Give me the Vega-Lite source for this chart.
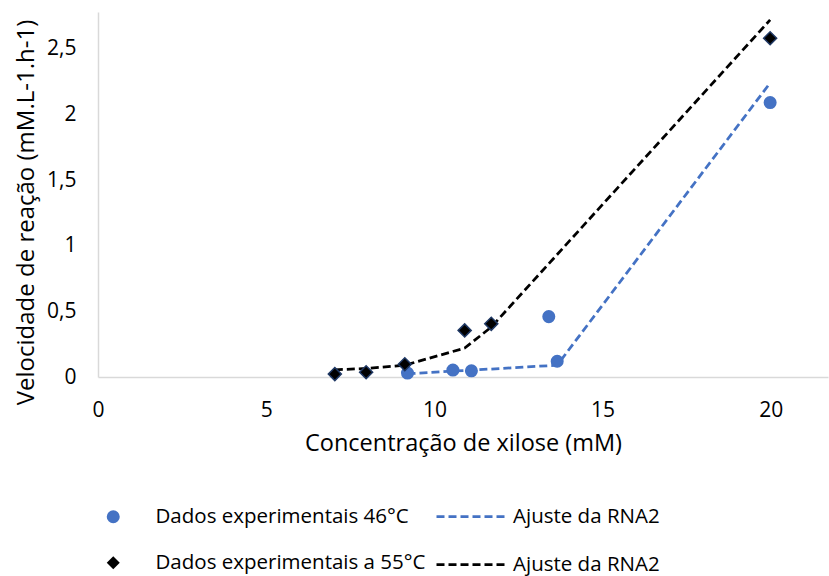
{
  "$schema": "https://vega.github.io/schema/vega-lite/v6.json",
  "width": 730,
  "height": 365,
  "autosize": {"type": "none"},
  "padding": {"left": 98, "top": 12, "right": 1, "bottom": 199},
  "background": "white",
  "config": {
    "view": {"stroke": null},
    "font": "Open Sans",
    "axis": {"labelFont": "Open Sans", "titleFont": "Open Sans", "labelColor": "#000000", "titleColor": "#000000", "titleFontWeight": "normal", "domainColor": "#d9d9d9", "domainWidth": 1.5, "ticks": false, "grid": false},
    "legend": {"labelFont": "Open Sans", "labelColor": "#000000", "padding": 0}
  },
  "datasets": {
    "exp": [
      {"x": 9.2, "y": 0.03, "serie": "Dados experimentais 46°C"},
      {"x": 10.55, "y": 0.053, "serie": "Dados experimentais 46°C"},
      {"x": 11.1, "y": 0.047, "serie": "Dados experimentais 46°C"},
      {"x": 13.4, "y": 0.46, "serie": "Dados experimentais 46°C"},
      {"x": 13.65, "y": 0.12, "serie": "Dados experimentais 46°C"},
      {"x": 19.98, "y": 2.09, "serie": "Dados experimentais 46°C"},
      {"x": 7.04, "y": 0.022, "serie": "Dados experimentais a 55°C"},
      {"x": 7.97, "y": 0.036, "serie": "Dados experimentais a 55°C"},
      {"x": 9.12, "y": 0.097, "serie": "Dados experimentais a 55°C"},
      {"x": 10.9, "y": 0.355, "serie": "Dados experimentais a 55°C"},
      {"x": 11.69, "y": 0.405, "serie": "Dados experimentais a 55°C"},
      {"x": 19.98, "y": 2.58, "serie": "Dados experimentais a 55°C"}
    ],
    "fit": [
      {"x": 9.2, "y": 0.025, "ajuste": "Ajuste da RNA2|46"},
      {"x": 10.55, "y": 0.045, "ajuste": "Ajuste da RNA2|46"},
      {"x": 11.1, "y": 0.052, "ajuste": "Ajuste da RNA2|46"},
      {"x": 13.65, "y": 0.09, "ajuste": "Ajuste da RNA2|46"},
      {"x": 19.98, "y": 2.24, "ajuste": "Ajuste da RNA2|46"},
      {"x": 7.04, "y": 0.055, "ajuste": "Ajuste da RNA2|55"},
      {"x": 7.97, "y": 0.065, "ajuste": "Ajuste da RNA2|55"},
      {"x": 9.12, "y": 0.09, "ajuste": "Ajuste da RNA2|55"},
      {"x": 10.9, "y": 0.22, "ajuste": "Ajuste da RNA2|55"},
      {"x": 11.69, "y": 0.38, "ajuste": "Ajuste da RNA2|55"},
      {"x": 19.98, "y": 2.72, "ajuste": "Ajuste da RNA2|55"}
    ]
  },
  "encoding": {
    "x": {
      "field": "x", "type": "quantitative",
      "scale": {"domain": [0, 21.7], "nice": false, "zero": false},
      "axis": {"values": [0, 5, 10, 15, 20], "title": "Concentração de xilose (mM)", "labelFontSize": 21, "titleFontSize": 23.5, "labelPadding": 22, "titlePadding": 11, "labelFlush": false}
    },
    "y": {
      "field": "y", "type": "quantitative",
      "scale": {"domain": [0, 2.78], "nice": false},
      "axis": {"values": [0, 0.5, 1, 1.5, 2, 2.5], "labelExpr": "replace(format(datum.value, '~g'), '.', ',')", "title": "Velocidade de reação (mM.L-1.h-1)", "labelFontSize": 21, "titleFontSize": 24, "labelPadding": 22, "titlePadding": 8, "titleY": 200, "labelFlush": false}
    }
  },
  "layer": [
    {
      "data": {"name": "fit"},
      "mark": {"type": "line", "strokeWidth": 2.75, "strokeDash": [8, 4]},
      "encoding": {
        "stroke": {
          "field": "ajuste", "type": "nominal",
          "scale": {"domain": ["Ajuste da RNA2|46", "Ajuste da RNA2|55"], "range": ["#4472C4", "#000000"]},
          "legend": {
            "title": null,
            "orient": "none",
            "legendX": 337,
            "legendY": 467.5,
            "direction": "vertical",
            "symbolType": "stroke",
            "symbolSize": 5041,
            "symbolDash": [8, 4],
            "symbolStrokeWidth": 2.75,
            "labelFontSize": 20.5,
            "labelOffset": 4,
            "rowPadding": -26,
            "labelLimit": 400,
            "labelExpr": "split(datum.label, '|')[0]"
          }
        }
      }
    },
    {
      "data": {"name": "exp"},
      "transform": [{"filter": "datum.serie == 'Dados experimentais 46°C'"}],
      "mark": {"type": "point", "filled": true, "opacity": 1, "size": 170, "strokeWidth": 0},
      "encoding": {
        "fill": {
          "field": "serie", "type": "nominal",
          "scale": {"domain": ["Dados experimentais 46°C", "Dados experimentais a 55°C"], "range": ["#4472C4", "#000000"]},
          "legend": {
            "title": null,
            "orient": "none",
            "legendX": 5,
            "legendY": 494.5,
            "direction": "vertical",
            "symbolSize": 170,
            "symbolStrokeWidth": 0,
            "symbolOpacity": 1,
            "labelFontSize": 20.5,
            "labelOffset": 32,
            "rowPadding": 25,
            "labelLimit": 400
          }
        },
        "shape": {
          "field": "serie", "type": "nominal",
          "scale": {"domain": ["Dados experimentais 46°C", "Dados experimentais a 55°C"], "range": ["circle", "diamond"]},
          "legend": {
            "title": null,
            "orient": "none",
            "legendX": 5,
            "legendY": 494.5,
            "direction": "vertical",
            "symbolSize": 170,
            "symbolStrokeWidth": 0,
            "symbolOpacity": 1,
            "labelFontSize": 20.5,
            "labelOffset": 32,
            "rowPadding": 25,
            "labelLimit": 400
          }
        }
      }
    },
    {
      "data": {"name": "exp"},
      "transform": [{"filter": "datum.serie == 'Dados experimentais a 55°C'"}],
      "mark": {"type": "point", "filled": true, "opacity": 1, "size": 170, "stroke": "#1F3864", "strokeWidth": 1.5},
      "encoding": {
        "fill": {"field": "serie", "type": "nominal"},
        "shape": {"field": "serie", "type": "nominal"}
      }
    }
  ]
}
